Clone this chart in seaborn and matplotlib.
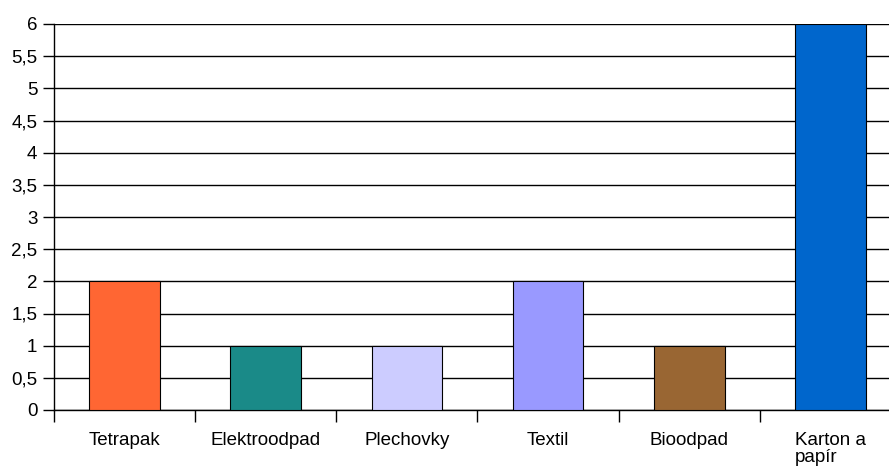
import numpy as np
import pandas as pd
import matplotlib.pyplot as plt
import seaborn as sns
from matplotlib.ticker import FixedLocator, FuncFormatter

categories = ['Tetrapak', 'Elektroodpad', 'Plechovky', 'Textil', 'Bioodpad', 'Karton a\npapír']
values = [2, 1, 1, 2, 1, 6]
colors = ['#FF6633', '#1A8A88', '#CCCCFF', '#9999FF', '#996633', '#0066CC']

sns.set_style('white')
plt.rcParams['font.family'] = ['Liberation Sans', 'DejaVu Sans']

df = pd.DataFrame({'kategorie': categories, 'pocet': values})

fig = plt.figure(figsize=(8.89, 4.68), dpi=100)
# plot area runs a little past the right edge of the picture
ax = fig.add_axes([54 / 889, 1 - 410 / 468, 847 / 889, (410 - 24) / 468])

sns.barplot(data=df, x='kategorie', y='pocet', hue='kategorie', palette=colors,
            saturation=1, width=0.5, edgecolor='black', linewidth=0.8,
            legend=False, ax=ax, zorder=3)

ax.set_ylim(0, 6)
ax.set_xlim(-0.5, len(categories) - 0.5)
ax.set_yticks(np.arange(0, 6.01, 0.5))
ax.yaxis.set_major_formatter(FuncFormatter(lambda v, p: f'{v:g}'.replace('.', ',')))
ax.grid(axis='y', color='black', linewidth=1, zorder=0)
ax.set_axisbelow(True)

# tick marks between categories
ax.xaxis.set_minor_locator(FixedLocator(np.arange(-0.5, len(categories) - 0.4, 1)))
ax.tick_params(axis='x', which='major', bottom=True, length=0, pad=16,
               labelsize=13.5, labelcolor='black')
ax.tick_params(axis='x', which='minor', bottom=True, length=8.5, width=1, color='black', direction='out')
ax.tick_params(axis='y', left=True, length=8, width=1, color='black', direction='out',
               labelsize=13.5, labelcolor='black', pad=4)
for lab in ax.get_xticklabels():
    lab.set_linespacing(0.95)
    lab.set_verticalalignment('top')
    lab.set_multialignment('left')

ax.set_xlabel('')
ax.set_ylabel('')
for side in ['top', 'right']:
    ax.spines[side].set_visible(False)
for side in ['left', 'bottom']:
    ax.spines[side].set_color('black')
    ax.spines[side].set_linewidth(1)

fig.savefig('out.png', dpi=100)
